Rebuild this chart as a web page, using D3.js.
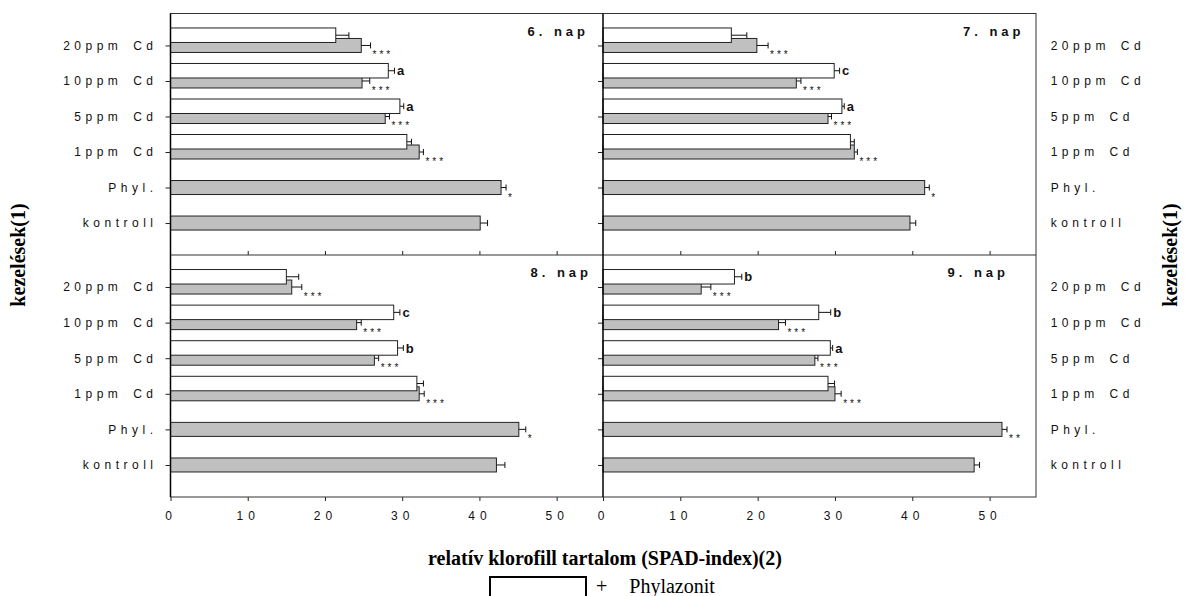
<!DOCTYPE html>
<html>
<head>
<meta charset="utf-8">
<script src="https://cdn.jsdelivr.net/npm/d3@7"></script>
<style>
body { margin: 0; background: #fff; }
.cat text { font-family: "Liberation Sans", Arial, sans-serif; font-size: 12px; letter-spacing: 4.5px; word-spacing: 3px; fill: #111; }
.num text { font-family: "Liberation Sans", Arial, sans-serif; font-size: 12px; letter-spacing: 5px; fill: #111; }
.tick line { stroke: #222; }
.day { font-family: "Liberation Sans", Arial, sans-serif; font-size: 13px; font-weight: bold; letter-spacing: 4px; fill: #111; }
.letter { font-family: "Liberation Sans", Arial, sans-serif; font-size: 13px; font-weight: bold; fill: #111; }
.star { font-family: "Liberation Sans", Arial, sans-serif; font-size: 10px; letter-spacing: 3px; fill: #111; }
.ttl { font-family: "Liberation Serif", "Times New Roman", serif; font-weight: bold; fill: #000; }
.leg { font-family: "Liberation Serif", "Times New Roman", serif; font-size: 20px; fill: #000; }
</style>
</head>
<body>
<script>
// categories, top to bottom
var cdCats = ["20ppm Cd", "10ppm Cd", "5ppm Cd", "1ppm Cd"];
var categories = cdCats.concat(["Phyl.", "kontroll"]);
var days = ["6. nap", "7. nap", "8. nap", "9. nap"];
var xTicks = [0, 10, 20, 30, 40, 50];

// grey bars (without Phylazonit), all categories
var grey6 = [24.7, 24.8, 27.8, 32.2, 42.8, 40.1];
var greyErr6 = [1.2, 1.0, 0.55, 0.55, 0.65, 0.95];
var grey7 = [19.9, 25.0, 29.1, 32.5, 41.6, 39.7];
var greyErr7 = [1.45, 0.6, 0.45, 0.4, 0.6, 0.75];
var grey8 = [15.7, 24.1, 26.4, 32.2, 45.1, 42.2];
var greyErr8 = [1.3, 0.6, 0.55, 0.65, 0.9, 1.1];
var grey9 = [12.7, 22.7, 27.4, 30.0, 51.6, 48.0];
var greyErr9 = [1.25, 0.9, 0.4, 0.8, 0.65, 0.7];

// white bars (+ Phylazonit), Cd categories only
var white6 = [21.4, 28.2, 29.7, 30.6];
var whiteErr6 = [1.7, 0.8, 0.5, 0.6];
var white7 = [16.6, 29.9, 30.9, 32.0];
var whiteErr7 = [2.0, 0.7, 0.3, 0.5];
var white8 = [15.0, 28.9, 29.4, 31.9];
var whiteErr8 = [1.6, 0.8, 0.75, 0.85];
var white9 = [17.0, 27.9, 29.4, 29.1];
var whiteErr9 = [0.95, 1.55, 0.3, 0.85];

// significance marks
var stars6 = ["***", "***", "***", "***", "*", ""];
var stars7 = ["***", "***", "***", "***", "*", ""];
var stars8 = ["***", "***", "***", "***", "*", ""];
var stars9 = ["***", "***", "***", "***", "**", ""];
var letters6 = ["", "a", "a", ""];
var letters7 = ["", "c", "a", ""];
var letters8 = ["", "c", "b", ""];
var letters9 = ["b", "b", "a", ""];

var W = 1193, H = 596;
var colX = [170.5, 603, 1036];
var rowY = [13.5, 255, 497];
var dayInset = [18, 15.5, 15, 31];

var panels = [
	{ day: days[0], grey: grey6, greyErr: greyErr6, white: white6, whiteErr: whiteErr6, stars: stars6, letters: letters6, col: 0, row: 0 },
	{ day: days[1], grey: grey7, greyErr: greyErr7, white: white7, whiteErr: whiteErr7, stars: stars7, letters: letters7, col: 1, row: 0 },
	{ day: days[2], grey: grey8, greyErr: greyErr8, white: white8, whiteErr: whiteErr8, stars: stars8, letters: letters8, col: 0, row: 1 },
	{ day: days[3], grey: grey9, greyErr: greyErr9, white: white9, whiteErr: whiteErr9, stars: stars9, letters: letters9, col: 1, row: 1 }
];

var svg = d3.select("body").append("svg")
	.attr("width", W).attr("height", H);

panels.forEach(function(p, pi) {
	var x = d3.scaleLinear().domain([0, 56]).range([colX[p.col], colX[p.col + 1]]);
	var y = d3.scalePoint().domain(categories).range([rowY[p.row], rowY[p.row + 1]]).padding(0.9);
	var g = svg.append("g");

	// grey bars
	g.selectAll(".gbar").data(categories).enter().append("rect")
		.attr("x", x(0))
		.attr("y", function(d) { return y(d) - 7; })
		.attr("width", function(d, i) { return x(p.grey[i]) - x(0); })
		.attr("height", 14)
		.attr("fill", "#c0c0c0")
		.attr("stroke", "#222")
		.attr("stroke-width", 1);

	// white bars on top
	g.selectAll(".wbar").data(cdCats).enter().append("rect")
		.attr("x", x(0))
		.attr("y", function(d) { return y(d) - 17.5; })
		.attr("width", function(d, i) { return x(p.white[i]) - x(0); })
		.attr("height", 14.5)
		.attr("fill", "#fff")
		.attr("stroke", "#222")
		.attr("stroke-width", 1);

	// error bars
	var errs = [];
	categories.forEach(function(c, i) {
		errs.push({ v: p.grey[i], e: p.greyErr[i], yc: y(c) });
	});
	cdCats.forEach(function(c, i) {
		errs.push({ v: p.white[i], e: p.whiteErr[i], yc: y(c) - 10.25 });
	});
	g.selectAll(".err").data(errs).enter().append("path")
		.attr("d", function(d) {
			var x1 = x(d.v), x2 = x(d.v + d.e);
			return "M" + x1 + "," + d.yc + "H" + x2 + "M" + x2 + "," + (d.yc - 3) + "V" + (d.yc + 3);
		})
		.attr("stroke", "#111")
		.attr("fill", "none");

	// stars next to grey bars
	g.selectAll(".star").data(categories).enter().append("text")
		.attr("class", "star")
		.attr("x", function(d, i) { return x(p.grey[i] + p.greyErr[i]) + 2; })
		.attr("y", function(d) { return y(d) + 13; })
		.text(function(d, i) { return p.stars[i]; });

	// letters next to white bars
	g.selectAll(".letter").data(cdCats).enter().append("text")
		.attr("class", "letter")
		.attr("x", function(d, i) { return x(p.white[i] + p.whiteErr[i]) + 2.5; })
		.attr("y", function(d) { return y(d) - 10.25; })
		.attr("dy", "0.36em")
		.text(function(d, i) { return p.letters[i]; });

	// day label
	svg.append("text").attr("class", "day")
		.attr("x", colX[p.col + 1] - dayInset[pi] + 4)
		.attr("y", rowY[p.row] + 17.5 + 4.7)
		.attr("text-anchor", "end")
		.text(p.day);

	// category axis (ticks at the left of each panel)
	var ax = svg.append("g").attr("class", "cat")
		.attr("transform", "translate(" + x(0) + ",0)")
		.call(d3.axisLeft(y).tickSize(5).tickPadding(8)
			.tickFormat(p.col === 0 ? function(d) { return d; } : ""));
	ax.select(".domain").remove();
	ax.attr("font-size", null).attr("font-family", null);

	if (p.col === 1) {
		var ar = svg.append("g").attr("class", "cat")
			.attr("transform", "translate(" + colX[2] + ",0)")
			.call(d3.axisRight(y).tickSize(0).tickPadding(14.7));
		ar.select(".domain").remove();
		ar.attr("font-size", null).attr("font-family", null);
	}

	// value axis
	if (p.row === 1) {
		var ab = svg.append("g").attr("class", "num")
			.attr("transform", "translate(0," + rowY[2] + ")")
			.call(d3.axisBottom(x).tickValues(xTicks).tickSize(4).tickPadding(10.5));
		ab.select(".domain").remove();
		ab.attr("font-size", null).attr("font-family", null);
	} else {
		var at = svg.append("g").attr("class", "num")
			.attr("transform", "translate(0," + rowY[1] + ")")
			.call(d3.axisBottom(x).tickValues(xTicks.slice(1)).tickSize(-4).tickFormat(""));
		at.select(".domain").remove();
	}
});

// frame
var frame = svg.append("g").attr("fill", "none");
frame.append("rect")
	.attr("x", colX[0]).attr("y", rowY[0])
	.attr("width", colX[2] - colX[0]).attr("height", rowY[2] - rowY[0])
	.attr("stroke", "#333");
frame.append("line")
	.attr("x1", colX[0]).attr("x2", colX[2]).attr("y1", rowY[1]).attr("y2", rowY[1])
	.attr("stroke", "#333");
frame.append("line")
	.attr("x1", colX[0]).attr("x2", colX[0]).attr("y1", rowY[0]).attr("y2", rowY[2])
	.attr("stroke", "#000").attr("stroke-width", 1.5);
frame.append("line")
	.attr("x1", colX[1]).attr("x2", colX[1]).attr("y1", rowY[0]).attr("y2", rowY[2])
	.attr("stroke", "#000").attr("stroke-width", 1.5);

// axis titles
svg.append("text").attr("class", "ttl")
	.attr("transform", "translate(24.7," + rowY[1] + ") rotate(-90)")
	.attr("text-anchor", "middle").attr("font-size", 20)
	.text("kezelések(1)");
svg.append("text").attr("class", "ttl")
	.attr("transform", "translate(1177," + rowY[1] + ") rotate(-90)")
	.attr("text-anchor", "middle").attr("font-size", 20)
	.text("kezelések(1)");
svg.append("text").attr("class", "ttl")
	.attr("x", 605).attr("y", 564.5)
	.attr("text-anchor", "middle").attr("font-size", 20)
	.text("relatív klorofill tartalom (SPAD-index)(2)");

// legend (cut off at the bottom, as in the source)
svg.append("rect")
	.attr("x", 490).attr("y", 577).attr("width", 96).attr("height", 30)
	.attr("fill", "#fff").attr("stroke", "#000").attr("stroke-width", 2);
svg.append("text").attr("class", "leg")
	.attr("x", 596).attr("y", 593)
	.attr("word-spacing", 17)
	.text("+ Phylazonit");
</script>
</body>
</html>
